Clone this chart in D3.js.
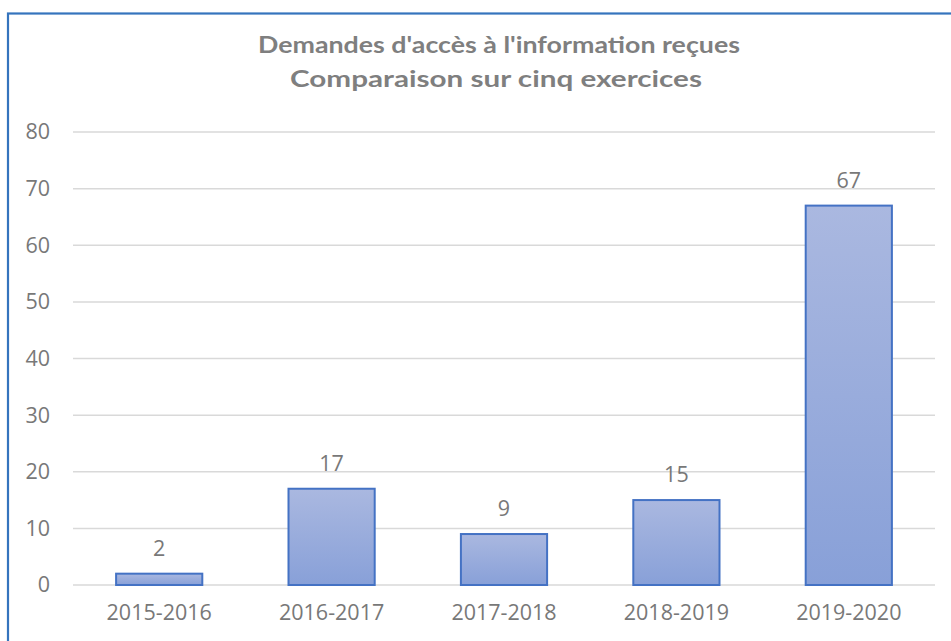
<!DOCTYPE html>
<html><head><meta charset="utf-8">
<script src="https://cdn.jsdelivr.net/npm/d3@7"></script>
<style>body{margin:0;background:#fff;} svg{display:block;}</style>
</head><body>
<svg id="c" width="951" height="641"></svg>
<script>
const categories = ["2015-2016","2016-2017","2017-2018","2018-2019","2019-2020"];
const values = [2, 17, 9, 15, 67];
const yTicks = [0,10,20,30,40,50,60,70,80];
const titleLines = ["Demandes d'accès à l'information reçues","Comparaison sur cinq exercices"];

const svg = d3.select("#c");
const W = 951, H = 641;
const m = {left:73, right:16, top:132, bottom:56};
const plotW = W - m.left - m.right, plotH = H - m.top - m.bottom;

// chart border
svg.append("rect").attr("x",8).attr("y",13.5).attr("width",960).attr("height",700)
  .attr("fill","#fff").attr("stroke","#3574bd").attr("stroke-width",2.2);

const defs = svg.append("defs");
const grad = defs.append("linearGradient").attr("id","bg").attr("x1",0).attr("y1",0).attr("x2",0).attr("y2",1);
grad.append("stop").attr("offset","0%").attr("stop-color","#aab8e0");
grad.append("stop").attr("offset","100%").attr("stop-color","#88a0d8");

const x = d3.scaleBand().domain(categories).range([m.left, m.left+plotW]).paddingInner(0.5).paddingOuter(0.25);
const y = d3.scaleLinear().domain([0,80]).range([m.top+plotH, m.top]);

const font = "'Open Sans', sans-serif";
const grey = "#787878";
const fs = 21.5;

// gridlines
svg.append("g").selectAll("line").data(yTicks).join("line")
  .attr("x1", m.left).attr("x2", m.left+plotW)
  .attr("y1", d=>y(d)).attr("y2", d=>y(d))
  .attr("stroke","#d9d9d9").attr("stroke-width",1.5);

// y axis labels
const yAxis = d3.axisLeft(y).tickValues(yTicks).tickSize(0).tickPadding(23);
const gy = svg.append("g").attr("transform",`translate(${m.left},0)`).call(yAxis);
gy.select(".domain").remove();
gy.selectAll("text").attr("font-family",font).attr("font-size",fs).attr("fill",grey);

// x axis labels
const xAxis = d3.axisBottom(x).tickSize(0).tickPadding(20);
const gx = svg.append("g").attr("transform",`translate(0,${y(0)})`).call(xAxis);
gx.select(".domain").remove();
gx.selectAll("text").attr("font-family",font).attr("font-size",fs).attr("fill",grey);

// bars
svg.append("g").selectAll("rect").data(values).join("rect")
  .attr("x",(d,i)=>x(categories[i])).attr("width",x.bandwidth())
  .attr("y",d=>y(d)).attr("height",d=>y(0)-y(d))
  .attr("fill","url(#bg)").attr("stroke","#4472c4").attr("stroke-width",2);

// value labels
svg.append("g").selectAll("text").data(values).join("text")
  .attr("x",(d,i)=>x(categories[i])+x.bandwidth()/2).attr("y",d=>y(d)-18)
  .attr("text-anchor","middle").attr("font-family",font).attr("font-size",fs).attr("fill",grey)
  .text(d=>d);

// title
const tw = [482, 412];
const tcx = [499, 496];
const tby = [53, 87];
titleLines.forEach((t,i)=>{
  svg.append("text").attr("x",tcx[i]).attr("y",tby[i]).attr("text-anchor","middle")
    .attr("font-family","Lato, 'Open Sans', sans-serif").attr("font-weight","bold")
    .attr("font-size",23).attr("fill","#7f7f7f")
    .attr("textLength",tw[i]).attr("lengthAdjust","spacingAndGlyphs")
    .text(t);
});
</script>
</body></html>
